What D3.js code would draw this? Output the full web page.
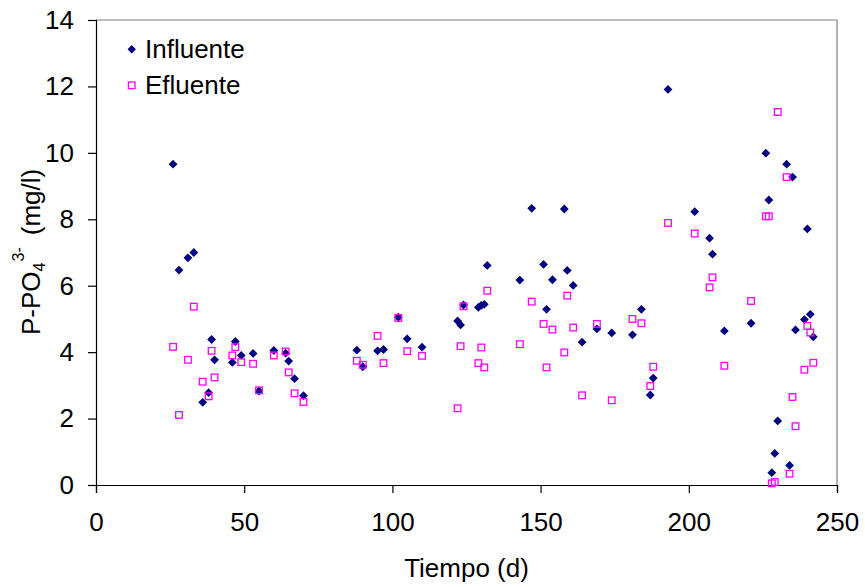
<!DOCTYPE html>
<html>
<head>
<meta charset="utf-8">
<script src="https://cdn.jsdelivr.net/npm/d3@7"></script>
<style>
  body { margin: 0; background: #fff; }
  svg text { font-family: "Liberation Sans", Arial, sans-serif; fill: #000; }
</style>
</head>
<body>
<div id="chart"></div>
<script>
// sampling days (same for both series)
const days = [26, 28, 31, 33, 36, 38, 39, 40, 46, 47, 49, 53, 55, 60, 64, 65, 67, 70,
  88, 90, 95, 97, 102, 105, 110, 122, 123, 124, 129, 130, 131, 132,
  143, 147, 151, 152, 154, 158, 159, 161, 164, 169, 174, 181, 184, 187, 188,
  193, 202, 207, 208, 212, 221, 226, 227, 228, 229, 230, 233, 234, 235, 236,
  239, 240, 241, 242];

const influente = [9.66, 6.47, 6.84, 7.0, 2.49, 2.78, 4.38, 3.77, 3.69, 4.32, 3.90, 3.96, 2.83, 4.05, 3.97, 3.73, 3.2, 2.69,
  4.06, 3.56, 4.04, 4.08, 5.05, 4.40, 4.15, 4.94, 4.82, 5.42, 5.35, 5.41, 5.44, 6.61,
  6.17, 8.33, 6.64, 5.29, 6.18, 8.31, 6.46, 6.01, 4.30, 4.70, 4.58, 4.52, 5.29, 2.71, 3.22,
  11.91, 8.23, 7.43, 6.95, 4.64, 4.87, 9.99, 8.58, 0.37, 0.95, 1.93, 9.66, 0.59, 9.27, 4.67,
  4.98, 7.71, 5.14, 4.46];

const efluente = [4.16, 2.11, 3.77, 5.37, 3.11, 2.67, 4.04, 3.24, 3.9, 4.15, 3.7, 3.65, 2.85, 3.9, 4.02, 3.39, 2.76, 2.5,
  3.74, 3.62, 4.49, 3.67, 5.03, 4.03, 3.89, 2.31, 4.18, 5.38, 3.67, 4.14, 3.54, 5.85,
  4.24, 5.52, 4.85, 3.54, 4.68, 3.99, 5.70, 4.74, 2.70, 4.85, 2.55, 5.0, 4.87, 2.98, 3.56,
  7.89, 7.57, 5.95, 6.25, 3.59, 5.54, 8.09, 8.09, 0.05, 0.09, 11.23, 9.27, 0.34, 2.65, 1.77,
  3.47, 4.79, 4.59, 3.68];

const xTicks = [0, 50, 100, 150, 200, 250];
const yTicks = [0, 2, 4, 6, 8, 10, 12, 14];
const seriesNames = ["Influente", "Efluente"];

const width = 865, height = 587;
const margin = { top: 20, right: 28, bottom: 102, left: 96 };

const svg = d3.select("#chart").append("svg")
  .attr("width", width)
  .attr("height", height);

const x = d3.scaleLinear().domain([0, 250]).range([margin.left, width - margin.right]);
const y = d3.scaleLinear().domain([0, 14]).range([height - margin.bottom, margin.top]);

// plot frame (top/right grey)
svg.append("path")
  .attr("d", `M${x(0)},${y(14)}H${x(250)}V${y(0)}`)
  .attr("fill", "none")
  .attr("stroke", "#808080")
  .attr("stroke-width", 1.2);

// x axis
const xAxis = svg.append("g")
  .attr("transform", `translate(0,${y(0)})`)
  .call(d3.axisBottom(x).tickValues(xTicks).tickSize(8).tickPadding(20).tickFormat(d3.format("d")));
xAxis.selectAll("text").style("font-size", "26px");

// y axis
const yAxis = svg.append("g")
  .attr("transform", `translate(${x(0)},0)`)
  .call(d3.axisLeft(y).tickValues(yTicks).tickSize(8).tickPadding(14).tickFormat(d3.format("d")));
yAxis.selectAll("text").style("font-size", "26px");

svg.selectAll(".domain").attr("stroke", "#000").attr("stroke-width", 1.2);
svg.selectAll(".tick line").attr("stroke", "#000").attr("stroke-width", 1.2);

// axis titles
svg.append("text")
  .attr("x", (x(0) + x(250)) / 2)
  .attr("y", 577)
  .attr("text-anchor", "middle")
  .style("font-size", "26px")
  .text("Tiempo (d)");

const yTitle = svg.append("text")
  .attr("transform", "translate(40,335) rotate(-90)")
  .attr("text-anchor", "start")
  .style("font-size", "26px");
yTitle.append("tspan").text("P-PO");
yTitle.append("tspan").attr("dy", 5).style("font-size", "16px").text("4");
yTitle.append("tspan").attr("dy", -21).attr("dx", 1).style("font-size", "16px").text("3-");
yTitle.append("tspan").attr("dy", 16).attr("dx", 12).text("(mg/l)");

// markers
const diamond = r => `M0,${-r}L${r},0L0,${r}L${-r},0Z`;

const pts = days.map((d, i) => ({ day: d, inf: influente[i], ef: efluente[i] }));

svg.append("g").selectAll("path")
  .data(pts)
  .join("path")
  .attr("transform", d => `translate(${x(d.day)},${y(d.inf)})`)
  .attr("d", diamond(4.4))
  .attr("fill", "#000080");

svg.append("g").selectAll("rect")
  .data(pts)
  .join("rect")
  .attr("x", d => x(d.day) - 3.3)
  .attr("y", d => y(d.ef) - 3.3)
  .attr("width", 6.6)
  .attr("height", 6.6)
  .attr("fill", "none")
  .attr("stroke", "#FF00FF")
  .attr("stroke-width", 1.3);

// legend
const legend = svg.append("g");
seriesNames.forEach((name, i) => {
  const ly = 49.3 + i * 36;
  if (i === 0) {
    legend.append("path")
      .attr("transform", `translate(131.7,${ly})`)
      .attr("d", diamond(4.2))
      .attr("fill", "#000080");
  } else {
    legend.append("rect")
      .attr("x", 131.7 - 3.3).attr("y", ly - 3.3)
      .attr("width", 6.6).attr("height", 6.6)
      .attr("fill", "none")
      .attr("stroke", "#FF00FF")
      .attr("stroke-width", 1.3);
  }
  legend.append("text")
    .attr("x", 145)
    .attr("y", ly + 9)
    .style("font-size", "26px")
    .text(name);
});
</script>
</body>
</html>
